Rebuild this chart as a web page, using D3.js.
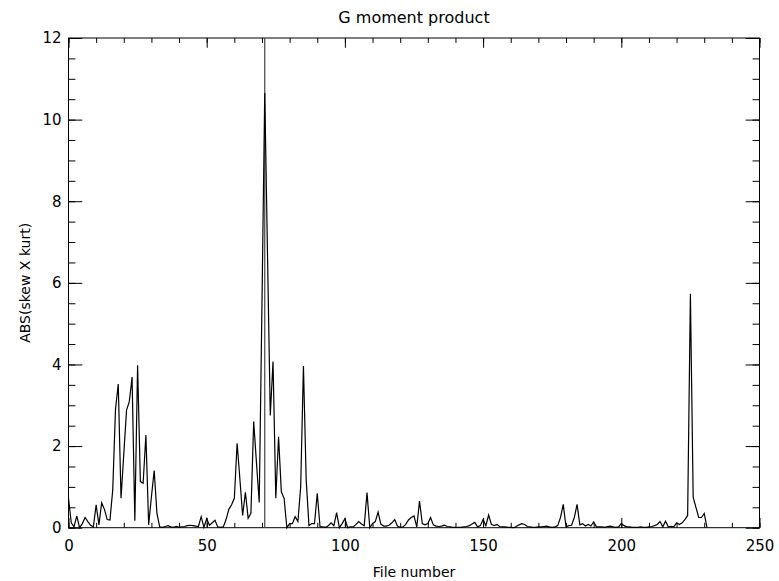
<!DOCTYPE html>
<html>
<head>
<meta charset="utf-8">
<script src="https://cdn.jsdelivr.net/npm/d3@7"></script>
<style>
  body { margin: 0; background: #fff; }
  text { font-family: "DejaVu Sans", sans-serif; fill: #000; }
</style>
</head>
<body>
<svg id="chart" width="779" height="581"></svg>
<script>
// values, one per file number starting at 0
const skewKurt = [
  0.72, 0.12, 0.02, 0.29, 0.00, 0.10, 0.25, 0.15, 0.06, 0.02,
  0.56, 0.07, 0.61, 0.45, 0.20, 0.19, 0.92, 2.90, 3.52, 0.72,
  1.80, 2.88, 3.09, 3.69, 0.17, 3.98, 1.13, 1.09, 2.27, 0.07,
  0.76, 1.40, 0.35, 0.02, 0.01, 0.03, 0.05, 0.02, 0.01, 0.03,
  0.01, 0.02, 0.03, 0.05, 0.06, 0.05, 0.04, 0.03, 0.27, 0.01,
  0.22, 0.06, 0.12, 0.18, 0.02, 0.01, 0.02, 0.20, 0.45, 0.56,
  0.72, 2.07, 1.20, 0.30, 0.87, 0.23, 0.35, 2.60, 1.60, 0.62,
  5.50, 10.65, 6.70, 2.75, 4.07, 0.72, 2.23, 0.88, 0.72, 0.00,
  0.10, 0.10, 0.27, 0.15, 1.00, 3.96, 1.17, 0.05, 0.10, 0.10,
  0.84, 0.02, 0.02, 0.01, 0.05, 0.12, 0.05, 0.37, 0.00, 0.10,
  0.22, 0.00, 0.02, 0.02, 0.08, 0.15, 0.09, 0.05, 0.86, 0.00,
  0.10, 0.15, 0.38, 0.09, 0.04, 0.04, 0.06, 0.12, 0.20, 0.04,
  0.01, 0.02, 0.08, 0.19, 0.25, 0.29, 0.02, 0.65, 0.10, 0.07,
  0.10, 0.25, 0.07, 0.04, 0.03, 0.04, 0.06, 0.03, 0.02, 0.01,
  0.01, 0.01, 0.01, 0.02, 0.03, 0.05, 0.09, 0.13, 0.02, 0.05,
  0.20, 0.05, 0.31, 0.08, 0.05, 0.08, 0.03, 0.02, 0.02, 0.01,
  0.01, 0.00, 0.03, 0.07, 0.10, 0.08, 0.03, 0.02, 0.01, 0.01,
  0.02, 0.02, 0.03, 0.04, 0.02, 0.01, 0.02, 0.05, 0.25, 0.57,
  0.02, 0.05, 0.06, 0.25, 0.57, 0.07, 0.10, 0.04, 0.08, 0.04,
  0.14, 0.02, 0.02, 0.02, 0.01, 0.03, 0.04, 0.02, 0.01, 0.02,
  0.10, 0.05, 0.02, 0.02, 0.01, 0.01, 0.01, 0.02, 0.01, 0.01,
  0.02, 0.03, 0.05, 0.08, 0.15, 0.02, 0.16, 0.02, 0.03, 0.02,
  0.12, 0.08, 0.12, 0.20, 0.30, 5.73, 0.75, 0.50, 0.25, 0.25,
  0.35, 0.00
];
const markedFile = 71;

const xMajorTicks = [0, 50, 100, 150, 200, 250];
const xMinorTicks = d3.range(0, 251, 10);
const yMajorTicks = [0, 2, 4, 6, 8, 10, 12];
const yMinorTicks = d3.range(0, 12.01, 0.5);

const titleText = "G moment product";
const xLabelText = "File number";
const yLabelText = "ABS(skew X kurt)";

const MARGIN = { TOP: 38, RIGHT: 19.5, BOTTOM: 53.3, LEFT: 68.5 };
const WIDTH = 779, HEIGHT = 581;
const FONT_SIZE = 15;

const svg = d3.select("#chart");

const x = d3.scaleLinear().domain([0, 250]).range([MARGIN.LEFT, WIDTH - MARGIN.RIGHT]);
const y = d3.scaleLinear().domain([0, 12]).range([HEIGHT - MARGIN.BOTTOM, MARGIN.TOP]);

const plotW = x.range()[1] - x.range()[0];
const plotH = y.range()[0] - y.range()[1];
const xTickLen = 0.02 * plotH; // IDL style ticks, inward
const yTickLen = 0.02 * plotW;

function styleAxis(g) {
  g.select(".domain").remove();
  g.selectAll("line").attr("stroke", "#000");
  g.selectAll("text").attr("font-size", FONT_SIZE);
}

// bottom axis with labels
svg.append("g")
  .attr("transform", `translate(0,${y(0)})`)
  .call(d3.axisBottom(x).tickValues(xMajorTicks).tickSizeInner(-xTickLen).tickSizeOuter(0).tickPadding(13))
  .call(styleAxis);
svg.append("g")
  .attr("transform", `translate(0,${y(0)})`)
  .call(d3.axisBottom(x).tickValues(xMinorTicks).tickSizeInner(-xTickLen / 2).tickSizeOuter(0).tickFormat(""))
  .call(styleAxis);

// top axis, ticks only
svg.append("g")
  .attr("transform", `translate(0,${y(12)})`)
  .call(d3.axisTop(x).tickValues(xMajorTicks).tickSizeInner(-xTickLen).tickSizeOuter(0).tickFormat(""))
  .call(styleAxis);
svg.append("g")
  .attr("transform", `translate(0,${y(12)})`)
  .call(d3.axisTop(x).tickValues(xMinorTicks).tickSizeInner(-xTickLen / 2).tickSizeOuter(0).tickFormat(""))
  .call(styleAxis);

// left axis with labels
svg.append("g")
  .attr("transform", `translate(${x(0)},0)`)
  .call(d3.axisLeft(y).tickValues(yMajorTicks).tickSizeInner(-yTickLen).tickSizeOuter(0).tickPadding(7))
  .call(styleAxis);
svg.append("g")
  .attr("transform", `translate(${x(0)},0)`)
  .call(d3.axisLeft(y).tickValues(yMinorTicks).tickSizeInner(-yTickLen / 2).tickSizeOuter(0).tickFormat(""))
  .call(styleAxis);

// right axis, ticks only
svg.append("g")
  .attr("transform", `translate(${x(250)},0)`)
  .call(d3.axisRight(y).tickValues(yMajorTicks).tickSizeInner(-yTickLen).tickSizeOuter(0).tickFormat(""))
  .call(styleAxis);
svg.append("g")
  .attr("transform", `translate(${x(250)},0)`)
  .call(d3.axisRight(y).tickValues(yMinorTicks).tickSizeInner(-yTickLen / 2).tickSizeOuter(0).tickFormat(""))
  .call(styleAxis);

// frame
svg.append("rect")
  .attr("x", x(0))
  .attr("y", y(12))
  .attr("width", plotW)
  .attr("height", plotH)
  .attr("fill", "none")
  .attr("stroke", "#000");

// marker line at the biggest file
svg.append("line")
  .attr("x1", x(markedFile))
  .attr("x2", x(markedFile))
  .attr("y1", y(0))
  .attr("y2", y(12))
  .attr("stroke", "#444")
  .attr("stroke-width", 1.2);

// data line
const line = d3.line()
  .x((d, i) => x(i))
  .y(d => y(d));

svg.append("path")
  .datum(skewKurt)
  .attr("fill", "none")
  .attr("stroke", "#000")
  .attr("stroke-width", 1.2)
  .attr("stroke-linejoin", "miter")
  .attr("d", line);

// titles
const midX = (x(0) + x(250)) / 2;
svg.append("text")
  .attr("x", midX)
  .attr("y", 23)
  .attr("text-anchor", "middle")
  .attr("font-size", FONT_SIZE + 1)
  .text(titleText);

svg.append("text")
  .attr("x", midX)
  .attr("y", 577)
  .attr("text-anchor", "middle")
  .attr("font-size", FONT_SIZE - 1)
  .text(xLabelText);

svg.append("text")
  .attr("transform", `translate(30,${(y(0) + y(12)) / 2}) rotate(-90)`)
  .attr("text-anchor", "middle")
  .attr("font-size", FONT_SIZE - 1)
  .text(yLabelText);
</script>
</body>
</html>
